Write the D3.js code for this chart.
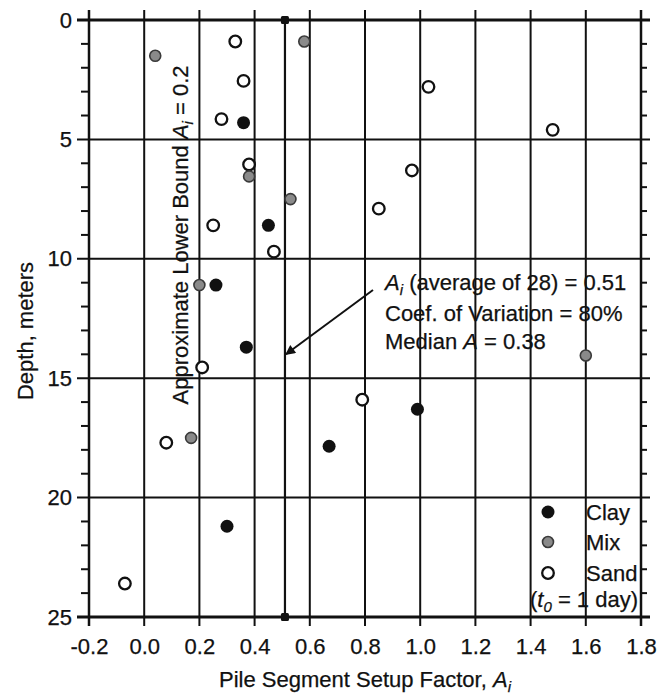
<!DOCTYPE html>
<html>
<head>
<meta charset="utf-8">
<script src="https://cdn.jsdelivr.net/npm/d3@7"></script>
<style>
  body { margin: 0; background: #fff; }
  svg text { font-family: "Liberation Sans", Arial, sans-serif; fill: #111; stroke: #111; stroke-width: 0.25px; }
</style>
</head>
<body>
<div id="chart"></div>
<script>
// data: setup factor A_i vs depth (m)
const clayA = [0.36, 0.45, 0.26, 0.37, 0.99, 0.67, 0.30];
const clayDepth = [4.3, 8.6, 11.1, 13.7, 16.3, 17.85, 21.2];
const mixA = [0.04, 0.58, 0.38, 0.53, 0.20, 0.17, 1.60];
const mixDepth = [1.5, 0.9, 6.55, 7.5, 11.1, 17.5, 14.05];
const sandA = [0.33, 0.36, 0.28, 0.38, 0.25, 0.47, 1.03, 1.48, 0.97, 0.85, 0.21, 0.08, -0.07, 0.79];
const sandDepth = [0.9, 2.55, 4.15, 6.05, 8.6, 9.7, 2.8, 4.6, 6.3, 7.9, 14.55, 17.7, 23.6, 15.9];
const xTicks = [-0.2, 0.0, 0.2, 0.4, 0.6, 0.8, 1.0, 1.2, 1.4, 1.6, 1.8];
const yTicks = [0, 5, 10, 15, 20, 25];
const yMinor = d3.range(0, 26).filter(d => d % 5 != 0);
const meanA = 0.51;

const W = 667, H = 695;
const margin = {top: 20, right: 26, bottom: 78, left: 89};
const fs = "22px", sub = "15px";

const svg = d3.select("#chart").append("svg")
  .attr("width", W).attr("height", H);

const x = d3.scaleLinear().domain([-0.2, 1.8]).range([margin.left, W - margin.right]);
const y = d3.scaleLinear().domain([0, 25]).range([margin.top, H - margin.bottom]);

const ink = "#111";

// vertical grid lines (they poke out above and below as ticks)
svg.append("g").selectAll("line")
  .data(xTicks).enter().append("line")
    .attr("x1", d => x(d)).attr("x2", d => x(d))
    .attr("y1", y(0) - 10).attr("y2", y(25) + 9)
    .attr("stroke", ink)
    .attr("stroke-width", (d, i) => (i == 0 || i == xTicks.length - 1) ? 2.5 : 2);

// horizontal grid lines every 5 m
svg.append("g").selectAll("line")
  .data(yTicks).enter().append("line")
    .attr("x1", x(-0.2) - 12).attr("x2", x(1.8) + 9)
    .attr("y1", d => y(d)).attr("y2", d => y(d))
    .attr("stroke", ink)
    .attr("stroke-width", d => (d == 0 || d == 25) ? 3 : 2);

// minor ticks each metre, left and right
svg.append("g").selectAll("line")
  .data(yMinor).enter().append("line")
    .attr("x1", x(-0.2) - 8).attr("x2", x(-0.2))
    .attr("y1", d => y(d)).attr("y2", d => y(d))
    .attr("stroke", ink).attr("stroke-width", 2);
svg.append("g").selectAll("line")
  .data(yMinor).enter().append("line")
    .attr("x1", x(1.8)).attr("x2", x(1.8) + 6)
    .attr("y1", d => y(d)).attr("y2", d => y(d))
    .attr("stroke", ink).attr("stroke-width", 2);

// axes just for the labels
const xAxis = svg.append("g")
  .attr("transform", `translate(0,${y(25)})`)
  .call(d3.axisBottom(x).tickValues(xTicks).tickFormat(d => d.toFixed(1)).tickSize(0).tickPadding(21));
const yAxis = svg.append("g")
  .attr("transform", `translate(${x(-0.2)},0)`)
  .call(d3.axisLeft(y).tickValues(yTicks).tickSize(0).tickPadding(17));
[xAxis, yAxis].forEach(g => {
  g.select(".domain").remove();
  g.selectAll("text").style("font-size", fs).attr("fill", ink)
    .style("font-family", '"Liberation Sans", Arial, sans-serif');
});

// mean line with square end markers
svg.append("line")
  .attr("x1", x(meanA)).attr("x2", x(meanA))
  .attr("y1", y(0)).attr("y2", y(25))
  .attr("stroke", ink).attr("stroke-width", 2.2);
svg.selectAll(".endmark")
  .data([0, 25]).enter().append("rect")
    .attr("x", x(meanA) - 4).attr("y", d => y(d) - 4)
    .attr("width", 8).attr("height", 8).attr("rx", 1.5)
    .attr("fill", ink);

// points
const pts = (as, ds) => as.map((a, i) => ({a: a, d: ds[i]}));
svg.append("g").selectAll("circle")
  .data(pts(sandA, sandDepth)).enter().append("circle")
    .attr("cx", d => x(d.a)).attr("cy", d => y(d.d)).attr("r", 5.8)
    .attr("fill", "#fff").attr("stroke", ink).attr("stroke-width", 2.3);
svg.append("g").selectAll("circle")
  .data(pts(mixA, mixDepth)).enter().append("circle")
    .attr("cx", d => x(d.a)).attr("cy", d => y(d.d)).attr("r", 5.5)
    .attr("fill", "#8a8a8a").attr("stroke", "#3a3a3a").attr("stroke-width", 1.6);
svg.append("g").selectAll("circle")
  .data(pts(clayA, clayDepth)).enter().append("circle")
    .attr("cx", d => x(d.a)).attr("cy", d => y(d.d)).attr("r", 6.5)
    .attr("fill", ink);

// arrow to the mean line
svg.append("defs").append("marker")
  .attr("id", "arr").attr("viewBox", "0 0 10 10")
  .attr("refX", 9).attr("refY", 5)
  .attr("markerWidth", 14).attr("markerHeight", 10)
  .attr("markerUnits", "userSpaceOnUse")
  .attr("orient", "auto")
  .append("path").attr("d", "M0,0 L10,5 L0,10 Z").attr("fill", ink);
svg.append("line")
  .attr("x1", 373).attr("y1", 290)
  .attr("x2", x(meanA) + 1).attr("y2", y(14.0))
  .attr("stroke", ink).attr("stroke-width", 2)
  .attr("marker-end", "url(#arr)");

// annotation block
const note = svg.append("g").style("font-size", fs);
let t = note.append("text").attr("x", 385).attr("y", 290);
t.append("tspan").style("font-style", "italic").text("A");
t.append("tspan").attr("dy", 5).style("font-size", sub).style("font-style", "italic").text("i");
t.append("tspan").attr("dy", -5).text(" (average of 28) = 0.51");
note.append("text").attr("x", 385).attr("y", 321).text("Coef. of Variation = 80%");
t = note.append("text").attr("x", 385).attr("y", 349);
t.append("tspan").text("Median ");
t.append("tspan").style("font-style", "italic").text("A");
t.append("tspan").text(" = 0.38");

// rotated lower bound label
t = svg.append("text")
  .attr("transform", `translate(188,${y(9.0)}) rotate(-90)`)
  .attr("text-anchor", "middle").style("font-size", fs);
t.append("tspan").text("Approximate Lower Bound ");
t.append("tspan").style("font-style", "italic").text("A");
t.append("tspan").attr("dy", 5).style("font-size", sub).style("font-style", "italic").text("i");
t.append("tspan").attr("dy", -5).text(" = 0.2");

// legend
const legX = 548;
const legend = [
  {name: "Clay", fill: ink, stroke: "none", r: 6.5, yy: 512},
  {name: "Mix", fill: "#8a8a8a", stroke: "#3a3a3a", r: 5.5, yy: 542},
  {name: "Sand", fill: "#fff", stroke: ink, r: 5.8, yy: 573}
];
legend.forEach(l => {
  svg.append("circle").attr("cx", legX).attr("cy", l.yy).attr("r", l.r)
    .attr("fill", l.fill).attr("stroke", l.stroke).attr("stroke-width", l.name == "Sand" ? 2.3 : 1.6);
  svg.append("text").attr("x", 586).attr("y", l.yy + 8).style("font-size", fs).text(l.name);
});
t = svg.append("text").attr("x", 530).attr("y", 607).style("font-size", fs);
t.append("tspan").text("(");
t.append("tspan").style("font-style", "italic").text("t");
t.append("tspan").attr("dy", 5).style("font-size", sub).style("font-style", "italic").text("0");
t.append("tspan").attr("dy", -5).text(" = 1 day)");

// axis titles
t = svg.append("text").attr("x", 365).attr("y", 687)
  .attr("text-anchor", "middle").style("font-size", fs);
t.append("tspan").text("Pile Segment Setup Factor, ");
t.append("tspan").style("font-style", "italic").text("A");
t.append("tspan").attr("dy", 5).style("font-size", sub).style("font-style", "italic").text("i");

svg.append("text")
  .attr("transform", `translate(33,331) rotate(-90)`)
  .attr("text-anchor", "middle").style("font-size", fs)
  .text("Depth, meters");
</script>
</body>
</html>
